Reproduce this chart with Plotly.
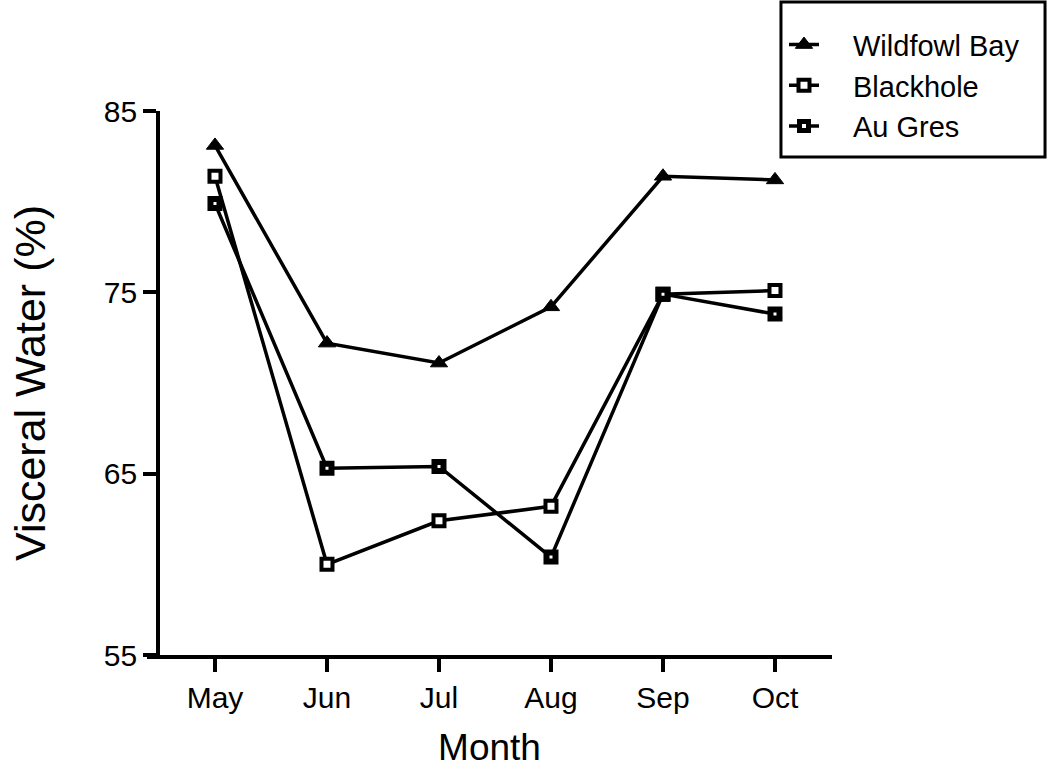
import plotly.graph_objects as go

months = ["May", "Jun", "Jul", "Aug", "Sep", "Oct"]
wildfowl_bay = [83.1, 72.2, 71.1, 74.2, 81.4, 81.2]
blackhole = [81.4, 60.0, 62.4, 63.2, 74.9, 75.1]
au_gres = [79.9, 65.3, 65.4, 60.4, 74.9, 73.8]
y_ticks = [55, 65, 75, 85]

FONT = "Liberation Sans, Arial, Helvetica, sans-serif"
LINE_W = 3.5
PAD = "\u2003"  # gap between legend symbol and label

fig = go.Figure()

fig.add_trace(go.Scatter(
    x=months, y=wildfowl_bay, name=PAD + "Wildfowl Bay", mode="lines+markers",
    line=dict(color="black", width=LINE_W),
    marker=dict(symbol="triangle-up", size=15, color="black",
                line=dict(color="black", width=1)),
    cliponaxis=False,
))
fig.add_trace(go.Scatter(
    x=months, y=blackhole, name=PAD + "Blackhole", mode="lines+markers",
    line=dict(color="black", width=LINE_W),
    marker=dict(symbol="square", size=11, color="white",
                line=dict(color="black", width=4)),
    cliponaxis=False,
))
fig.add_trace(go.Scatter(
    x=months, y=au_gres, name=PAD + "Au Gres", mode="lines+markers",
    line=dict(color="black", width=LINE_W),
    marker=dict(symbol="square", size=9, color="white",
                line=dict(color="black", width=6)),
    cliponaxis=False,
))

# frame around the legend
fig.add_shape(
    type="rect", xref="paper", yref="paper",
    x0=0.9255, x1=1.311, y0=0.9154, y1=1.2004,
    line=dict(color="black", width=3), fillcolor="white", layer="below",
)

fig.update_layout(
    width=1047, height=769,
    margin=dict(l=147, r=215, t=111, b=114, autoexpand=False),
    paper_bgcolor="white", plot_bgcolor="white",
    font=dict(family=FONT, size=30, color="black"),
    showlegend=True,
    legend=dict(
        xref="container", yref="container",
        x=0.7488, y=0.975, xanchor="left", yanchor="top",
        borderwidth=0, bgcolor="rgba(0,0,0,0)",
        font=dict(family=FONT, size=29, color="black"),
    ),
    xaxis=dict(
        type="category", range=[-0.607, 5.509],
        showline=True, linecolor="black", linewidth=LINE_W,
        ticks="outside", ticklen=13, tickwidth=LINE_W, tickcolor="black",
        showgrid=False, zeroline=False,
        tickfont=dict(family=FONT, size=30),
        title=dict(text="Month", font=dict(family=FONT, size=37), standoff=22),
    ),
    yaxis=dict(
        range=[55, 85], tickvals=y_ticks,
        anchor="free", position=0.016,
        showline=True, linecolor="black", linewidth=LINE_W,
        ticks="outside", ticklen=13, tickwidth=LINE_W, tickcolor="black",
        showgrid=False, zeroline=False,
        tickfont=dict(family=FONT, size=30),
        title=dict(text="Visceral Water (%)", font=dict(family=FONT, size=43), standoff=44),
    ),
)

fig.write_html("out.html")
